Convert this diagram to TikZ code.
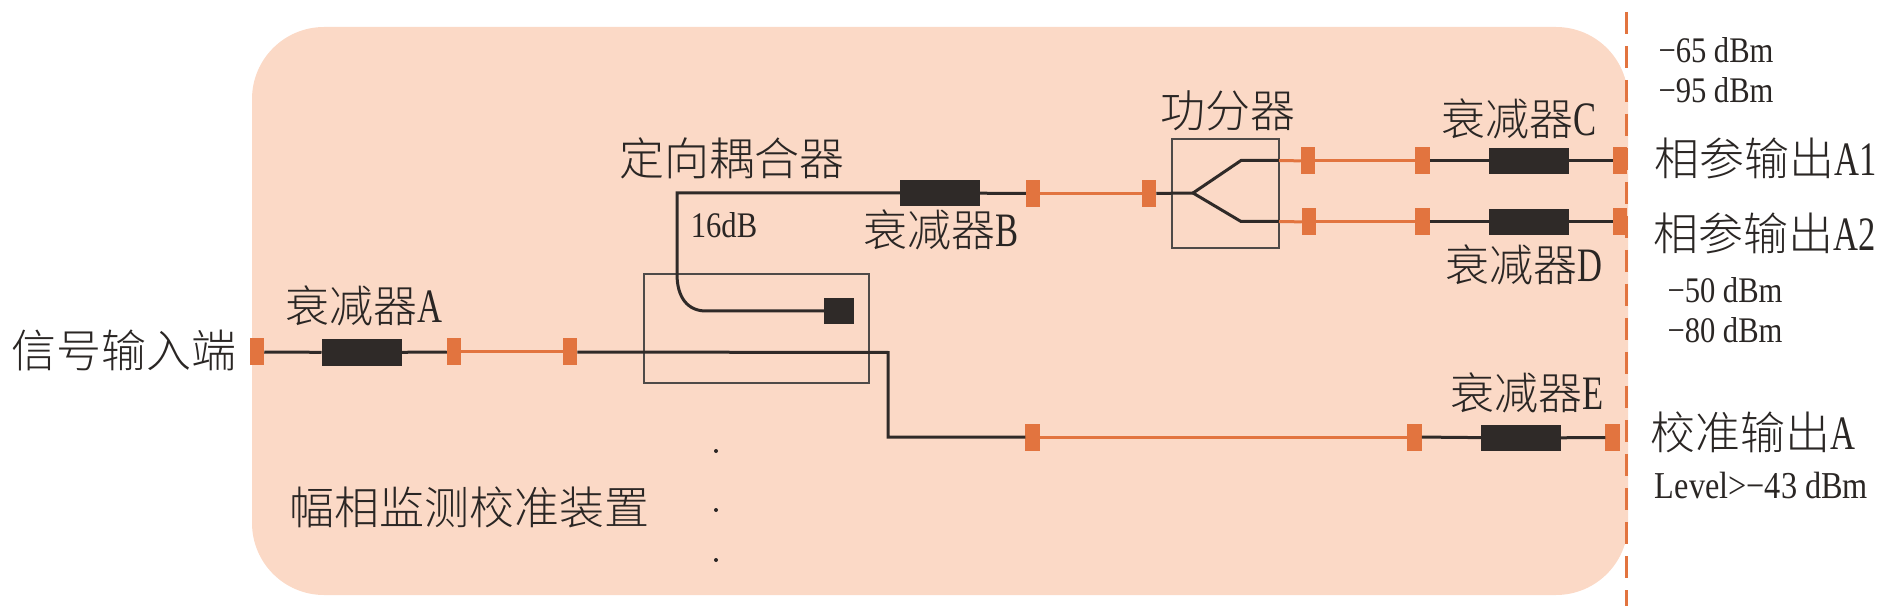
\documentclass[tikz,border=0pt]{standalone}
\usepackage{fontspec}
\setmainfont[FakeStretch=0.85]{Liberation Serif}
\newfontfamily\cjk{Noto Sans CJK SC Light}
\newfontfamily\narrowlat[FakeStretch=0.72]{Liberation Serif}
\newcommand{\cnl}[2]{{\cjk #1}{\fontsize{48}{48}\selectfont\narrowlat #2}}
\definecolor{panelc}{HTML}{FBD9C6}
\definecolor{orangec}{HTML}{E2743F}
\definecolor{darkc}{HTML}{2F2A28}
\definecolor{inkc}{HTML}{2A2624}
\tikzset{
  panelbox/.style={fill=panelc,draw=none,rounded corners=72pt,minimum width=1376pt,minimum height=568pt,inner sep=0pt,outer sep=0pt},
  portbox/.style={fill=orangec,draw=none,minimum width=14.5pt,minimum height=27pt,inner sep=0pt,outer sep=0pt},
  attn/.style={fill=darkc,draw=none,minimum width=80pt,minimum height=26.5pt,inner sep=0pt,outer sep=0pt},
  frame/.style={draw=darkc!85,line width=1.5pt,fill=none,inner sep=0pt,outer sep=0pt},
  blackline/.style={draw=darkc,line width=3pt},
  orangeline/.style={draw=orangec,line width=3pt},
  lab/.style={inner sep=0pt,text=inkc,font=\fontsize{44}{46}\selectfont},
  biglab/.style={inner sep=0pt,text=inkc,font=\fontsize{45}{46}\selectfont\cjk},
  smalllab/.style={inner sep=0pt,text=inkc,font=\fontsize{36}{38}\selectfont},
  dotnode/.style={circle,fill=inkc,draw=none,minimum size=4pt,inner sep=0pt}
}
\begin{document}
\begin{tikzpicture}[x=1pt,y=-1pt]
\useasboundingbox (0,0) rectangle (1890,609);
\node[panelbox] (panel) at (940,311) {};
\coordinate (dashtop) at (1626,12);
\coordinate (dashbot) at (1626,606);
\draw[draw=orangec,line width=3pt,dash pattern=on 22pt off 12pt] (dashtop) -- (dashbot);

% ports and attenuators
\node[portbox] (p0) at (257,352) {};
\node[attn] (aA) at (361.5,352.5) {};
\node[portbox] (p1) at (454,352) {};
\node[portbox] (p2) at (570,352) {};
\node[attn] (aB) at (940,193) {};
\node[portbox] (p3) at (1033,193.5) {};
\node[portbox] (p4) at (1149,193.5) {};
\node[portbox] (p5) at (1308,161) {};
\node[portbox] (p6) at (1422.5,161) {};
\node[attn] (aC) at (1529,161) {};
\node[portbox] (p7) at (1620,161) {};
\node[portbox] (p8) at (1309,222) {};
\node[portbox] (p9) at (1422.5,222) {};
\node[attn] (aD) at (1529,222) {};
\node[portbox] (p10) at (1620,222) {};
\node[portbox] (p11) at (1032.5,437) {};
\node[portbox] (p12) at (1414.5,437) {};
\node[attn] (aE) at (1521,438) {};
\node[portbox] (p13) at (1612.5,437.5) {};

% boxes
\node[frame,minimum width=225pt,minimum height=109pt] (coupler) at (756.5,328.5) {};
\node[frame,minimum width=107pt,minimum height=109pt] (splitter) at (1225.5,193.5) {};
\node[fill=darkc,minimum width=30pt,minimum height=26pt,inner sep=0pt,outer sep=0pt] (load) at (839,311) {};

% connectors
\draw[blackline] (p0) -- (aA);
\draw[blackline] (aA) -- (p1);
\draw[orangeline] (p1) -- (p2);
\coordinate (turn) at (888,352.5);
\draw[blackline] (p2) -- (turn) -- (turn |- p11) -- (p11);
\draw[orangeline] (p11) -- (p12);
\draw[blackline] (p12) -- (aE);
\draw[blackline] (aE) -- (p13);
\coordinate (ctop) at (677,193);
\coordinate (cbend) at (677,274);
\draw[blackline] (aB) -- (ctop) -- (cbend) .. controls (677,298) and (688,311) .. (706,311) -- (load);
\draw[blackline] (aB) -- (p3);
\draw[orangeline] (p3) -- (p4);
\coordinate (tip) at (1193,193);
\coordinate (upk) at (1241,160.5);
\coordinate (lowk) at (1241,221.5);
\coordinate (upe) at (splitter.east |- upk);
\coordinate (lowe) at (splitter.east |- lowk);
\draw[blackline] (p4) -- (tip);
\draw[blackline] (tip) -- (upk) -- (upe);
\draw[blackline] (tip) -- (lowk) -- (lowe);
\draw[orangeline] (upe) -- (p5);
\draw[orangeline] (lowe) -- (p8);
\draw[orangeline] (p5) -- (p6);
\draw[orangeline] (p8) -- (p9);
\draw[blackline] (p6) -- (aC);
\draw[blackline] (aC) -- (p7);
\draw[blackline] (p9) -- (aD);
\draw[blackline] (aD) -- (p10);

% labels
\node[biglab] (tIn) at (123.5,350) {信号输入端};
\node[biglab] (tDev) at (469,507.5) {幅相监测校准装置};
\node[biglab] (tCoup) at (732,158) {定向耦合器};
\node[biglab] (tSpl) at (1228,111) {功分器};
\node[lab] (tA) at (363.5,306) {\cnl{衰减器}{A}};
\node[lab] (tB) at (941,230) {\cnl{衰减器}{B}};
\node[lab] (tC) at (1519.5,119) {\cnl{衰减器}{C}};
\node[lab] (tD) at (1523.5,265) {\cnl{衰减器}{D}};
\node[lab] (tE) at (1527,392.5) {\cnl{衰减器}{E}};
\node[lab,font=\fontsize{45}{46}\selectfont] (tA1) at (1766,158) {\cnl{相参输出}{A1}};
\node[lab,font=\fontsize{45}{46}\selectfont] (tA2) at (1765,233) {\cnl{相参输出}{A2}};
\node[lab,font=\fontsize{45}{46}\selectfont] (tCal) at (1753,432) {\cnl{校准输出}{A}};
\node[smalllab] (t16) at (724,225.5) {16dB};
\node[smalllab] (t65) at (1716,50.5) {−65 dBm};
\node[smalllab] (t95) at (1716,90.5) {−95 dBm};
\node[smalllab] (t50) at (1725,290.5) {−50 dBm};
\node[smalllab] (t80) at (1725,330.5) {−80 dBm};
\node[smalllab,font=\fontsize{38}{40}\selectfont] (tLev) at (1761.5,485.5) {Level>−43 dBm};
\node[dotnode] (d1) at (716,451) {};
\node[dotnode] (d2) at (716,510) {};
\node[dotnode] (d3) at (716,560) {};
\end{tikzpicture}
\end{document}
